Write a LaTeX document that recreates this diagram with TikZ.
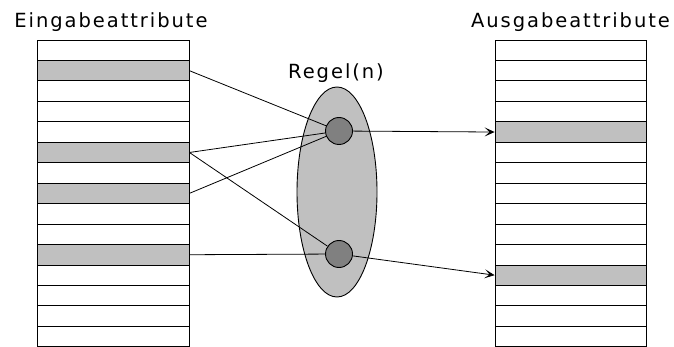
\documentclass[tikz,border=0pt]{standalone}
\usepackage{fontspec}
\usepackage{tikz}
\usepackage{xcolor}
\usetikzlibrary{positioning, shapes.geometric, arrows.meta}

\newfontfamily\lblfont{DejaVu Sans}[LetterSpace=10]
\definecolor{cellgray}{RGB}{192,192,192}
\definecolor{dotgray}{RGB}{128,128,128}

\begin{document}
\begin{tikzpicture}[
  x=1pt, y=-1pt,
  >={Stealth[length=10pt, width=9pt, inset=5pt]},
  title/.style={font=\lblfont\fontsize{19.5}{22}\selectfont, anchor=base, inner sep=0pt},
  cell/.style={draw, line width=0.8pt, minimum height=20.45pt, inner sep=0pt},
  incell/.style={cell, minimum width=152pt},
  outcell/.style={cell, minimum width=151pt},
  hit/.style={fill=cellgray},
  rulebag/.style={draw, ellipse, line width=0.9pt, fill=cellgray, minimum width=80pt, minimum height=210pt},
  rule/.style={draw, circle, line width=0.9pt, fill=dotgray, minimum size=27pt, inner sep=0pt},
  link/.style={line width=0.8pt}
]
\useasboundingbox (0,0) rectangle (674,347);

% Titles
\node[title] (intitle) at (111, 28) {Eingabeattribute};
\node[title] (outtitle) at (570.5, 28) {Ausgabeattribute};
\node[title] (rtitle) at (336, 79) {Regel(n)};

% Input attribute table (rows 1, 5, 7, 10 are used)
\foreach \i in {0,...,14} {
  \node[incell] (in\i) at (113, 40+20.45*\i+10.225) {};
}
\foreach \i in {1,5,7,10} {
  \node[incell, hit] at (in\i) {};
}

% Output attribute table (rows 4 and 11 are written)
\foreach \i in {0,...,14} {
  \node[outcell] (out\i) at (570.5, 40+20.45*\i+10.225) {};
}
\foreach \i in {4,11} {
  \node[outcell, hit] at (out\i) {};
}

% Rules
\node[rulebag] (bag) at (337, 192) {};
\node[rule] (r1) at (339, 131) {};
\node[rule] (r2) at (339, 254) {};

% Inputs to rules
\draw[link] (in1.east) -- (r1);
\draw[link] (in5.east) -- (r1);
\draw[link] (in7.east) -- (r1);
\draw[link] (in5.east) -- (r2);
\draw[link] (in10.east) -- (r2);

% Rules to outputs
\draw[link, ->] (r1) -- (out4.west);
\draw[link, ->] (r2) -- (out11.west);

\end{tikzpicture}
\end{document}
